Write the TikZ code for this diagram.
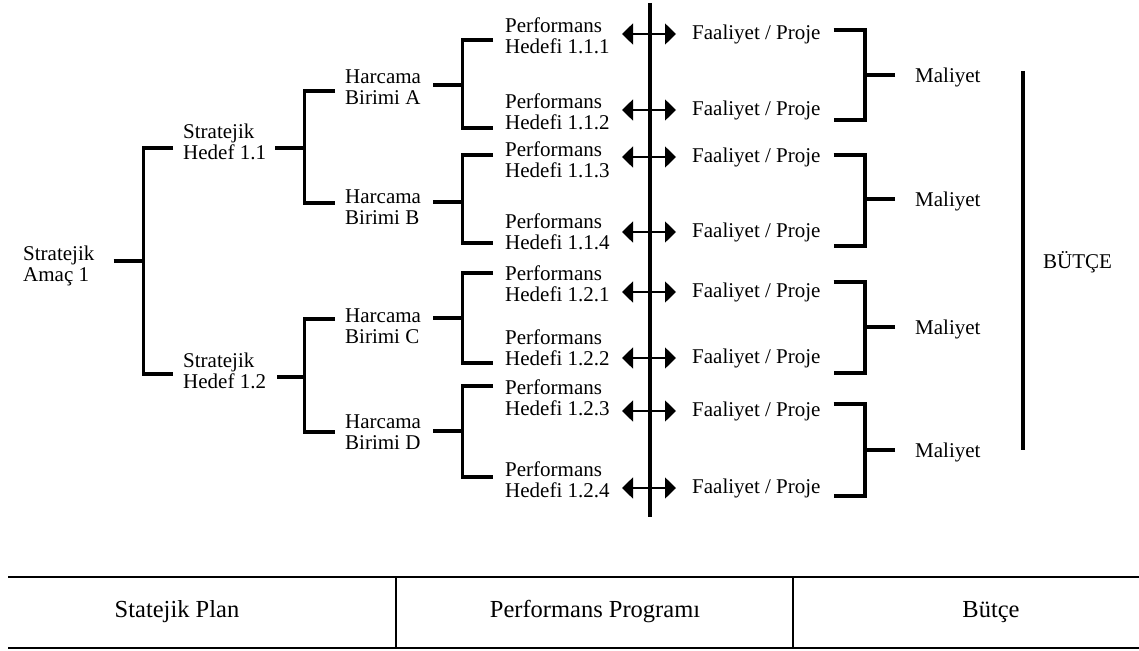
\documentclass[tikz,border=0pt]{standalone}
\usepackage{fontspec}
\setmainfont{Liberation Serif}
\usepackage{tikz}
\usetikzlibrary{arrows.meta,positioning}

\tikzset{
  lbl/.style={anchor=west, align=left, inner sep=0pt, font=\fontsize{21}{21}\selectfont},
  cell/.style={inner sep=0pt, font=\fontsize{24.5}{26}\selectfont},
  br/.style={line width=3.3pt},
  dbl/.style={line width=1.6pt, {Triangle[length=11pt,width=21pt]}-{Triangle[length=11pt,width=21pt]}}
}

\begin{document}
\begin{tikzpicture}[x=1pt,y=-1pt]
\useasboundingbox (0,0) rectangle (1139,650);

% stratejik plan
\node[lbl] (amac) at (23,266) {Stratejik\\Amaç 1};
\node[lbl] (hed11) at (183,142) {Stratejik\\Hedef 1.1};
\node[lbl] (hed12) at (183,371) {Stratejik\\Hedef 1.2};
\node[lbl] (birA) at (345,87) {Harcama\\Birimi A};
\node[lbl] (birB) at (345,207) {Harcama\\Birimi B};
\node[lbl] (birC) at (345,326) {Harcama\\Birimi C};
\node[lbl] (birD) at (345,432) {Harcama\\Birimi D};

\node[lbl] (ph111) at (505,36) {Performans\\Hedefi 1.1.1};
\node[lbl] (ph112) at (505,112) {Performans\\Hedefi 1.1.2};
\node[lbl] (ph113) at (505,160) {Performans\\Hedefi 1.1.3};
\node[lbl] (ph114) at (505,232) {Performans\\Hedefi 1.1.4};
\node[lbl] (ph121) at (505,284) {Performans\\Hedefi 1.2.1};
\node[lbl] (ph122) at (505,348) {Performans\\Hedefi 1.2.2};
\node[lbl] (ph123) at (505,398) {Performans\\Hedefi 1.2.3};
\node[lbl] (ph124) at (505,480) {Performans\\Hedefi 1.2.4};

\draw[br] ([shift={(19,-5)}]amac.east) -- ++(30,0) coordinate (j0);
\draw[br] ([shift={(-10,6)}]hed11.west) -| (j0) |- ([shift={(-10,3)}]hed12.west);

\draw[br] ([shift={(9,6)}]hed11.east) -- ++(29,0) coordinate (j11);
\draw[br] ([shift={(-10,4)}]birA.west) -| (j11) |- ([shift={(-10,-4)}]birB.west);
\draw[br] ([shift={(11,6)}]hed12.east) -- ++(27,0) coordinate (j12);
\draw[br] ([shift={(-10,-7)}]birC.west) -| (j12) |- ([shift={(-10,0)}]birD.west);

\draw[br] ([shift={(12,-2)}]birA.east) -- ++(29,0) coordinate (jA);
\draw[br] ([shift={(-12,4)}]ph111.west) -| (jA) |- ([shift={(-12,16)}]ph112.west);
\draw[br] ([shift={(12,-5)}]birB.east) -- ++(29,0) coordinate (jB);
\draw[br] ([shift={(-12,-5)}]ph113.west) -| (jB) |- ([shift={(-12,11)}]ph114.west);
\draw[br] ([shift={(12,-8)}]birC.east) -- ++(29,0) coordinate (jC);
\draw[br] ([shift={(-12,-11)}]ph121.west) -| (jC) |- ([shift={(-12,15)}]ph122.west);
\draw[br] ([shift={(12,-1)}]birD.east) -- ++(29,0) coordinate (jD);
\draw[br] ([shift={(-12,-12)}]ph123.west) -| (jD) |- ([shift={(-12,-3)}]ph124.west);

% performans programi / butce
\draw[line width=3.5pt] (650,3) -- (650,517);

\node[lbl] (fp1) at (692,34) {Faaliyet / Proje};
\node[lbl] (fp2) at (692,110) {Faaliyet / Proje};
\node[lbl] (fp3) at (692,157) {Faaliyet / Proje};
\node[lbl] (fp4) at (692,232) {Faaliyet / Proje};
\node[lbl] (fp5) at (692,292) {Faaliyet / Proje};
\node[lbl] (fp6) at (692,358) {Faaliyet / Proje};
\node[lbl] (fp7) at (692,411) {Faaliyet / Proje};
\node[lbl] (fp8) at (692,488) {Faaliyet / Proje};

\draw[dbl] ([xshift=-70]fp1.west) -- ([xshift=-16]fp1.west);
\draw[dbl] ([xshift=-70]fp2.west) -- ([xshift=-16]fp2.west);
\draw[dbl] ([xshift=-70]fp3.west) -- ([xshift=-16]fp3.west);
\draw[dbl] ([xshift=-70]fp4.west) -- ([xshift=-16]fp4.west);
\draw[dbl] ([xshift=-70]fp5.west) -- ([xshift=-16]fp5.west);
\draw[dbl] ([xshift=-70]fp6.west) -- ([xshift=-16]fp6.west);
\draw[dbl] ([xshift=-70]fp7.west) -- ([xshift=-16]fp7.west);
\draw[dbl] ([xshift=-70]fp8.west) -- ([xshift=-16]fp8.west);

\node[lbl] (mal1) at (915,77) {Maliyet};
\node[lbl] (mal2) at (915,201) {Maliyet};
\node[lbl] (mal3) at (915,329) {Maliyet};
\node[lbl] (mal4) at (915,452) {Maliyet};

\draw[br] ([shift={(-20,-2)}]mal1.west) -- ++(-30,0) coordinate (k1);
\draw[br] ([shift={(13,-4)}]fp1.east) -| (k1) |- ([shift={(13,10)}]fp2.east);
\draw[br] ([shift={(-20,-2)}]mal2.west) -- ++(-30,0) coordinate (k2);
\draw[br] ([shift={(13,-2)}]fp3.east) -| (k2) |- ([shift={(13,14)}]fp4.east);
\draw[br] ([shift={(-20,-2)}]mal3.west) -- ++(-30,0) coordinate (k3);
\draw[br] ([shift={(13,-10)}]fp5.east) -| (k3) |- ([shift={(13,15)}]fp6.east);
\draw[br] ([shift={(-20,-2)}]mal4.west) -- ++(-30,0) coordinate (k4);
\draw[br] ([shift={(13,-7)}]fp7.east) -| (k4) |- ([shift={(13,8)}]fp8.east);

\node[lbl] (butce) at (1043,262) {BÜTÇE};
\draw[line width=3.5pt] ([shift={(-20,-191)}]butce.west) -- ([shift={(-20,188)}]butce.west);

% tablo
\draw[line width=2pt] (8,577) -- (1139,577) (8,648) -- (1139,648);
\draw[line width=1.6pt] (396,577) -- (396,648) (793,577) -- (793,648);
\node[cell] (plan) at (177,612) {Statejik Plan};
\node[cell] (prog) at (595,612) {Performans Programı};
\node[cell] (btc) at (991,612) {Bütçe};
\end{tikzpicture}
\end{document}
